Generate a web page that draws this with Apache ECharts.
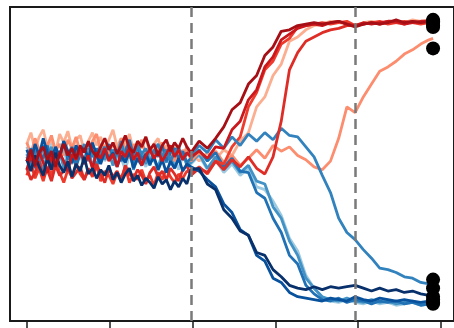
<!DOCTYPE html>
<html>
<head>
<meta charset="utf-8">
<script src="https://cdn.jsdelivr.net/npm/echarts@6/dist/echarts.min.js"></script>
<style>html,body{margin:0;padding:0;background:#fff;}#c{width:454px;height:328px;}</style>
</head>
<body>
<div id="c"></div>
<script>
// x positions (steps): 0..40 by 1, 42..98 by 2, then 99
const steps = [0,1,2,3,4,5,6,7,8,9,10,11,12,13,14,15,16,17,18,19,20,21,22,23,24,25,26,27,28,29,30,31,32,33,34,35,36,37,38,39,40,
  42,44,46,48,50,52,54,56,58,60,62,64,66,68,70,72,74,76,78,80,82,84,86,88,90,92,94,96,98,99];
const xTicks = [0,20,40,60,80,100];
const phaseLines = [40,80];

// red runs
const r1 = [2,10,-1,8,12,3,9,-2,7,14,6,11,4,13,8,16,9,5,12,18,10,15,7,13,20,11,8,16,12,19,10,14,6,13,17,9,15,11,18,12,8,
  16,11,18,26,38,43,56,62,76,82,93,94,97,98,99,98,99,100,98,96,98,99,98,99,101,99,100,99,100,100];
const r2 = [-4,6,-2,9,1,-6,5,-1,8,2,-5,7,3,10,0,6,-3,8,4,11,2,7,-2,9,5,12,3,8,-1,6,10,4,9,2,7,13,5,10,3,8,5,
  9,4,12,11,24,30,45,52,68,75,87,91,95,97,98,97,99,100,98,97,99,98,99,100,100,98,99,100,100,101];
const r3 = [-8,1,-10,-3,-12,-2,-8,3,-6,-13,-4,-9,0,-7,-11,-3,-9,-1,-12,-5,-8,-14,-6,-10,-2,-13,-7,-11,-4,-12,-8,-15,-6,-11,-3,-9,-13,-7,-10,-5,-6,
  -2,-7,2,0,12,19,40,50,66,72,84,88,96,97,98,99,98,99,100,97,98,99,100,98,99,100,99,98,99,99];
const r4 = [14,22,10,19,24,12,18,8,21,15,23,11,17,20,9,16,22,13,19,10,17,24,12,18,14,21,9,16,11,19,7,14,18,8,13,5,12,3,10,6,8,
  2,8,3,10,6,16,22,40,47,62,70,86,89,94,97,98,100,99,98,97,99,100,98,99,100,99,101,100,101,101];
const r5 = [-3,-11,-6,2,-9,-4,-12,-1,-8,-5,1,-10,-6,-2,-11,-4,-8,0,-7,-13,-3,-9,-5,-12,-1,-7,-10,-4,-8,-14,-6,-2,-9,-5,-11,-3,-7,-12,-4,-1,-8,
  -3,-6,2,-4,3,-2,5,-3,-7,5,30,66,78,86,89,92,94,95,97,97,98,99,98,100,99,98,100,99,100,100];
const r6 = [15,7,18,10,4,13,20,9,14,6,17,11,19,8,12,5,16,21,10,13,7,15,9,18,11,4,14,8,17,6,12,3,10,15,7,11,2,9,5,12,2,
  8,3,9,1,6,-1,4,10,4,13,9,12,6,3,-2,-4,2,18,40,36,47,56,65,68,72,77,80,84,87,88];

// blue runs
const b1 = [3,-5,6,-2,-8,4,-4,8,-1,-6,2,-9,0,-5,5,-7,-3,-10,-4,-8,-1,-11,-6,-13,-7,-3,-12,-8,-15,-10,-13,-17,-9,-14,-11,-18,-12,-16,-10,-14,-4,
  -3,-14,-18,-32,-38,-47,-50,-62,-64,-74,-79,-85,-87,-88,-86,-88,-86,-87,-86,-85,-87,-89,-87,-89,-88,-90,-89,-91,-92,-93];
const b2 = [10,2,14,6,18,8,3,12,5,16,9,1,13,7,11,4,15,6,0,10,3,8,-2,6,1,9,-3,4,-1,7,0,5,-4,3,-6,2,-3,4,-5,0,-2,
  -5,-11,-16,-28,-34,-46,-50,-64,-68,-80,-83,-90,-93,-94,-95,-96,-94,-95,-96,-93,-95,-96,-94,-95,-96,-95,-96,-97,-96,-97];
const b3 = [2,11,-3,8,4,13,-1,9,6,16,3,12,-2,7,10,15,5,11,1,8,14,4,10,2,9,17,6,12,3,7,-1,10,5,13,2,8,11,4,9,1,4,
  10,2,8,-2,4,-5,-6,-20,-24,-38,-48,-64,-70,-85,-91,-95,-96,-94,-97,-95,-96,-98,-96,-97,-96,-98,-97,-99,-98,-98];
const b4 = [7,-2,10,3,-4,6,12,1,9,-3,5,13,0,8,4,11,-2,7,14,3,9,-1,6,12,2,10,-4,5,8,0,11,3,-2,7,1,9,-3,4,8,-1,1,
  7,-3,5,-4,2,-6,-1,-12,-14,-30,-38,-54,-64,-80,-87,-93,-95,-96,-94,-96,-97,-95,-97,-96,-98,-97,-96,-98,-97,-97];
const b5 = [12,4,15,7,1,10,16,6,3,11,-2,8,13,5,0,9,-3,6,11,2,7,-1,10,4,-4,6,9,1,5,-2,7,3,-5,4,8,-1,3,-4,6,0,0,
  6,-4,3,-6,0,-8,-3,-16,-18,-26,-36,-52,-61,-78,-87,-94,-96,-97,-95,-97,-98,-96,-98,-97,-99,-98,-97,-99,-98,-98];
const b6 = [5,-3,9,2,13,6,-1,10,4,15,7,0,11,5,14,2,9,-2,8,12,3,10,6,16,4,8,1,13,7,11,0,9,14,5,10,2,8,12,3,7,6,
  13,8,17,11,19,13,21,16,22,17,25,20,19,12,5,-8,-20,-38,-48,-53,-60,-66,-73,-74,-76,-79,-80,-83,-84,-85];

// end markers
const endX = 99;
const endValues = [101,100,99,97,96,81,-81,-87,-93,-95,-97,-98];

const runs = [
  {d:b5,c:'#9ecae1'},{d:r4,c:'#fcae91'},{d:b4,c:'#4292c6'},{d:r6,c:'#fc8d6e'},
  {d:b3,c:'#2171b5'},{d:r3,c:'#ef3b2c'},{d:b6,c:'#3182bd'},{d:r5,c:'#de2d26'},
  {d:b2,c:'#08519c'},{d:r2,c:'#cb181d'},{d:b1,c:'#08306b'},{d:r1,c:'#a50f15'}
];

const series = runs.map(r => ({
  type:'line', data: steps.map((x,i)=>[x, r.d[i]]), showSymbol:false, symbol:'none',
  lineStyle:{color:r.c, width:2.8}, silent:true
}));
series.push({
  type:'line', data:[], markLine:{silent:true, symbol:'none', label:{show:false},
    lineStyle:{color:'#7a7a7a', width:2.5, type:[10,6]},
    data: phaseLines.map(v=>({xAxis:v}))}
});
series.push({
  type:'scatter', data:endValues.map(v=>[endX,v]), symbolSize:14,
  itemStyle:{color:'#000', opacity:1}, z:10
});

const chart = echarts.init(document.getElementById('c'), null, {renderer:'canvas'});
chart.setOption({
  animation:false,
  grid:[
    {left:10, top:7, width:448, height:314, show:true, borderColor:'#1a1a1a', borderWidth:2, backgroundColor:'transparent'},
    {left:27, top:7, width:414, height:314, show:false}
  ],
  xAxis:[
    {type:'value', gridIndex:0, min:-4.1, max:104.1, splitLine:{show:false}, axisLine:{show:false}, axisTick:{show:false}, axisLabel:{show:false}},
    {type:'value', gridIndex:1, min:0, max:100, interval:20, position:'bottom', splitLine:{show:false}, axisLine:{show:false, onZero:false},
      axisTick:{show:true, length:8, lineStyle:{color:'#1a1a1a', width:1.5}}, axisLabel:{show:false}}
  ],
  yAxis:[
    {type:'value', gridIndex:0, min:-110, max:110, splitLine:{show:false}, axisLine:{show:false}, axisTick:{show:false}, axisLabel:{show:false}},
    {type:'value', gridIndex:1, min:-110, max:110, show:false}
  ],
  series
});
</script>
</body>
</html>
